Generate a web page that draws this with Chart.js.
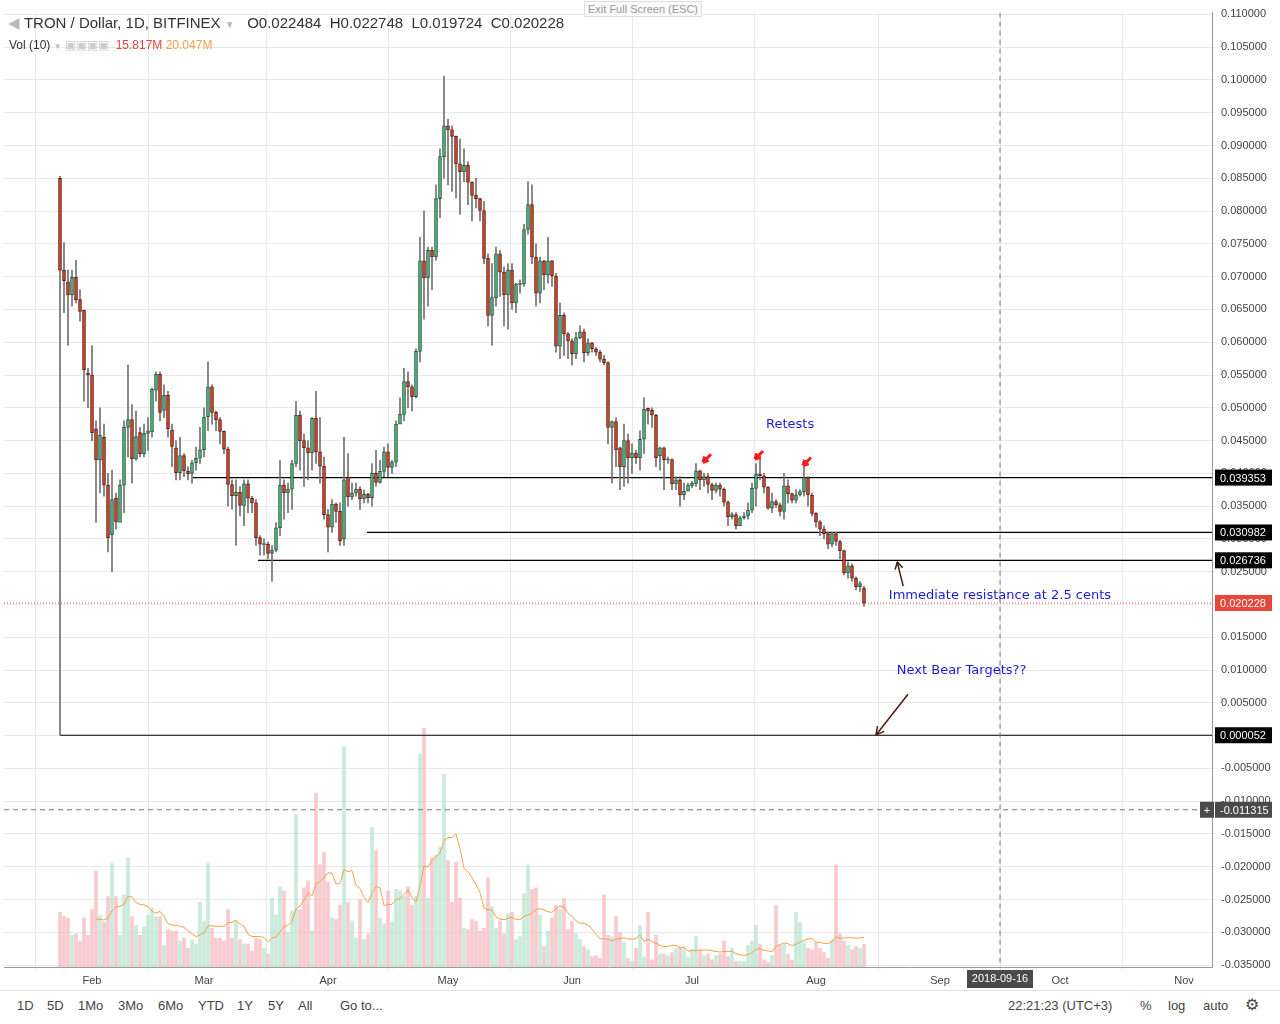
<!DOCTYPE html>
<html>
<head>
<meta charset="utf-8">
<script src="https://cdn.jsdelivr.net/npm/chart.js@4/dist/chart.umd.min.js"></script>
<style>
body { margin: 0; background: #fff; font-family: "Liberation Sans", Arial, sans-serif; }
#wrap { position: relative; width: 1280px; height: 1024px; overflow: hidden; }
#c { position: absolute; left: 0; top: 0; }
.hd { position: absolute; white-space: nowrap; color: #333; }
#bar { position: absolute; left: 0; top: 990px; width: 1280px; height: 34px; border-top: 1px solid #e0e0e0; font-size: 13px; color: #444; }
#bar span { position: absolute; top: 7px; }
</style>
</head>
<body>
<div id="wrap">
<canvas id="c" width="1280" height="990"></canvas>
<div class="hd" style="left:8px;top:14px;font-size:15px;"><span style="color:#bbb">&#9664;</span> TRON / Dollar, 1D, BITFINEX <span style="color:#bbb;font-size:10px">&#9660;</span>&nbsp;&nbsp; O0.022484 &nbsp;H0.022748 &nbsp;L0.019724 &nbsp;C0.020228</div>
<div class="hd" style="left:9px;top:38px;font-size:12px;">Vol (10) <span style="color:#bbb;font-size:8px">&#9660;</span> <span style="color:#ccc">&#9635;&#9635;&#9635;&#9635;</span>&nbsp; <span style="color:#e0463a">15.817M</span> <span style="color:#f5a04a">20.047M</span></div>
<div class="hd" style="left:584px;top:1px;font-size:11px;color:#999;border:1px solid #ddd;padding:1px 3px;background:#fafafa;">Exit Full Screen (ESC)</div>
<div id="bar">
<span style="left:17px">1D</span><span style="left:47px">5D</span><span style="left:78px">1Mo</span><span style="left:118px">3Mo</span><span style="left:158px">6Mo</span><span style="left:198px">YTD</span><span style="left:237px">1Y</span><span style="left:268px">5Y</span><span style="left:298px">All</span>
<span style="left:340px">Go to...</span>
<span style="left:1008px">22:21:23 (UTC+3)</span><span style="left:1140px">%</span><span style="left:1168px">log</span><span style="left:1203px">auto</span><span style="left:1245px;font-size:16px;top:4px">&#9881;</span>
</div>
</div>
<script>
// prices in thousandths of a dollar, one candle per day from 2018-01-24
const firstDay = -8; // days relative to Feb 1
const opens = [85.0,71.0,69.2,67.2,69.9,66.5,64.9,55.3,55.0,46.8,42.0,45.5,38.2,30.6,36.2,32.5,38.2,47.0,48.2,42.2,
46.2,43.0,46.1,46.3,52.7,55.1,49.6,51.9,46.6,43.9,40.1,42.7,40.3,40.0,41.6,42.3,43.6,48.6,53.2,49.3,
48.2,46.4,43.7,38.3,36.6,37.1,35.1,38.4,36.2,35.5,30.2,29.2,29.2,27.8,28.3,31.7,38.2,37.0,37.6,41.5,
48.9,45.0,43.9,43.1,48.4,43.3,41.1,33.7,31.8,35.3,34.2,30.0,39.4,36.4,37.0,37.6,36.1,36.8,36.3,40.0,
38.6,40.3,43.3,40.9,41.7,47.5,49.0,54.0,53.2,51.7,58.6,72.4,69.8,74.0,73.0,81.9,88.3,93.0,92.4,91.4,
87.2,86.0,87.0,84.4,82.4,81.9,80.1,72.8,64.1,66.8,73.5,70.7,67.2,71.0,66.0,68.9,68.9,77.2,81.0,73.0,
67.5,72.4,70.3,72.4,70.1,59.4,64.1,61.3,60.2,58.2,60.7,61.6,58.4,59.9,59.0,58.5,57.4,56.9,47.0,47.9,
43.9,41.0,45.0,42.4,43.1,42.4,45.2,49.8,49.6,48.9,42.7,43.9,42.1,42.1,38.4,39.0,36.7,37.3,38.2,38.4,
40.4,39.0,39.5,38.3,37.4,38.2,37.6,35.6,33.4,33.7,32.0,33.2,33.5,34.4,37.7,39.9,39.6,37.9,34.7,35.7,
35.2,34.2,38.1,36.9,35.9,36.7,37.2,39.3,36.7,33.9,32.6,31.5,30.8,29.2,30.8,29.6,28.2,24.8,25.9,24.0,
22.7,22.5];
const closes = [71.0,69.4,67.2,69.9,66.5,64.7,55.8,55.0,46.2,42.1,45.8,38.2,30.2,36.0,32.6,38.2,47.0,48.2,42.2,45.6,
43.0,46.1,46.5,52.8,55.1,49.3,51.9,46.8,44.1,40.1,42.7,40.4,39.9,41.6,42.3,43.6,48.6,53.2,49.3,48.2,
46.4,43.7,38.3,36.6,37.1,35.1,38.4,36.2,35.5,30.2,29.2,29.2,27.8,28.3,31.7,38.2,37.0,37.6,41.5,48.9,
45.0,43.9,43.1,48.4,43.3,41.1,33.7,31.8,35.3,34.2,29.7,39.0,36.4,37.0,37.6,36.1,36.8,36.3,40.0,38.6,
40.3,43.3,40.9,41.7,47.5,49.0,54.0,53.2,51.7,58.6,72.4,69.8,74.0,73.0,81.9,88.3,93.0,92.4,91.4,87.2,
86.0,87.0,84.4,82.4,81.9,80.1,72.8,64.1,66.8,73.5,70.7,67.2,71.0,66.0,68.9,68.9,77.2,81.0,73.0,67.5,
72.4,70.3,72.4,70.1,59.4,64.1,61.3,60.2,58.2,60.7,61.6,58.4,59.9,59.0,58.5,57.4,56.9,47.0,47.9,43.6,
41.0,45.0,42.4,43.1,42.4,45.2,49.8,49.6,48.9,42.4,43.9,42.1,42.1,38.4,39.0,36.7,37.3,38.2,38.4,40.4,
39.0,39.5,38.3,37.4,38.2,37.6,35.6,33.4,33.7,32.0,33.2,33.5,34.4,37.7,39.9,39.6,37.9,34.7,35.7,35.2,
34.2,38.1,36.9,35.9,36.7,37.2,39.3,36.7,33.9,32.6,31.5,30.8,29.2,30.8,29.6,28.2,24.8,25.9,24.0,22.7,
23.2,20.2];
const highs = [85.3,75.2,71.0,71.0,72.5,68.0,64.9,56.0,59.5,48.0,50.0,47.5,40.0,40.5,37.0,39.0,48.0,56.5,50.5,49.5,
47.0,47.5,48.5,53.0,55.5,55.5,53.5,52.5,47.5,45.0,45.5,43.0,41.0,42.0,44.0,47.0,50.0,57.0,53.5,49.5,
48.5,46.5,44.0,39.0,39.0,38.0,39.0,39.0,36.5,36.0,30.5,30.0,29.5,29.0,32.5,42.0,39.0,38.5,42.0,51.0,
49.5,46.0,45.0,48.5,52.5,48.5,42.5,34.5,36.0,35.5,35.5,45.5,43.0,38.5,38.5,38.0,37.5,37.0,41.5,43.5,
42.0,44.0,44.5,42.0,48.0,51.5,56.0,55.5,53.5,59.0,76.0,80.0,74.5,74.5,84.0,89.5,100.6,94.0,93.0,91.5,
91.0,89.5,87.5,84.5,85.0,82.0,81.5,73.5,72.0,74.5,74.0,71.5,72.0,72.0,69.0,69.5,78.0,84.5,84.0,75.0,
73.0,72.5,76.0,72.5,70.5,66.0,64.5,61.5,60.5,61.5,62.5,62.0,60.5,60.0,59.2,58.8,58.0,57.0,48.0,48.5,
44.0,47.5,46.0,44.5,43.5,46.5,51.5,50.0,50.0,49.0,44.0,44.0,42.5,42.2,39.5,39.5,38.5,38.5,38.8,41.5,
40.5,40.0,40.0,38.5,38.5,38.5,37.8,35.8,34.0,34.0,33.5,34.0,35.5,38.5,41.5,43.0,40.0,38.0,37.0,36.0,
35.5,40.0,39.0,37.0,37.5,37.5,41.0,39.5,37.0,34.0,32.8,32.0,31.0,31.0,31.0,29.8,28.3,26.5,26.2,24.2,
23.5,22.75];
const lows = [0.05,64.5,59.5,65.5,66.0,63.2,51.0,50.0,45.0,32.5,37.0,36.5,28.0,25.0,31.5,33.5,34.0,42.5,38.5,42.0,
42.5,42.5,43.5,45.5,51.0,48.0,48.5,45.5,41.0,39.0,39.0,39.5,39.0,38.5,40.5,41.5,42.5,46.5,47.5,46.5,
44.5,43.0,35.0,34.5,29.0,33.5,32.0,34.0,34.0,29.0,27.5,27.5,27.0,23.5,28.0,30.5,33.0,34.0,34.5,41.0,
40.5,38.0,39.0,40.5,41.5,38.5,33.0,28.0,31.0,32.5,29.0,29.0,35.0,36.0,36.5,34.5,35.5,35.5,35.0,38.0,
38.5,39.5,39.5,40.0,41.0,48.0,48.0,50.0,49.5,51.5,57.0,63.5,65.5,68.0,72.5,79.0,85.0,84.0,83.0,82.0,
79.5,84.5,81.0,78.5,80.5,78.5,72.0,62.5,59.5,65.5,67.0,62.5,62.0,65.0,64.5,67.5,68.5,76.5,72.0,65.5,
66.0,68.0,69.0,68.5,58.5,57.5,58.0,57.5,56.5,57.5,60.5,57.0,58.0,58.5,58.0,57.0,56.5,44.5,38.5,41.0,
37.5,38.0,38.5,40.0,41.5,40.5,43.0,47.5,47.0,41.0,40.5,37.5,41.5,37.5,37.5,35.0,36.0,37.5,37.8,38.0,
37.5,38.0,37.0,36.0,37.0,36.5,35.0,32.0,33.0,31.5,32.0,33.0,33.0,34.0,35.0,39.0,37.0,34.5,34.0,34.8,
33.5,33.0,35.5,35.5,35.5,36.5,36.5,35.0,33.5,31.8,30.5,30.0,28.5,28.8,29.0,27.0,24.5,24.0,23.5,22.2,
22.0,19.7];
// volume in millions
const volumes = [38,35,34,22,23,18,34,22,40,67, 36,31,49,72,49,22,50,76,35,29,
22,28,36,41,35,35,15,26,25,25, 18,20,13,19,16,45,32,72,27,20,
20,18,40,20,32,19,16,16,11,20, 19,13,9,48,36,56,53,24,39,106,
40,55,60,25,121,71,80,59,34,33, 43,153,45,32,20,47,19,23,97,81,
34,30,53,31,54,53,49,56,43,49, 148,166,48,76,78,83,134,74,45,73,
48,27,26,33,32,25,27,62,42,27, 32,23,37,38,19,21,51,71,54,55,
36,14,25,34,43,40,48,26,32,23, 19,14,12,7,8,6,50,22,21,35,
24,17,6,4,13,29,7,38,5,22, 9,9,8,10,13,13,13,7,12,21,
12,8,9,5,8,9,18,7,13,4, 4,4,15,18,29,16,5,3,8,43,
15,16,9,5,38,31,17,13,12,17, 13,10,6,19,71,23,18,15,12,14,
13,16];
const monthDays = [0, 28, 59, 89, 120, 150, 181, 212, 242, 273];
const monthNames = ['Feb', 'Mar', 'Apr', 'May', 'Jun', 'Jul', 'Aug', 'Sep', 'Oct', 'Nov'];
const levels = [[0.039353, 25.25], [0.030982, 68.75], [0.026736, 41.5], [0.000052, -8]];
const lastPrice = 0.020228;
const crossPrice = -0.011315;
const crossDay = 227;

const UP = '#53b987', UPB = '#225437', DN = '#d94a2e', DNB = '#5e1a0e';
let wickData = [], bodyData = [], bodyFill = [], bodyBorder = [], volData = [], volColor = [];
for (let i = 0; i < closes.length; i++) {
    let d = firstDay + i;
    let o = opens[i] / 1000, c = closes[i] / 1000;
    let up = c >= o;
    wickData.push({x: d, y: [lows[i] / 1000, highs[i] / 1000]});
    let lo = Math.min(o, c), hi = Math.max(o, c);
    if (hi - lo < 0.0002) { lo -= 0.0001; hi += 0.0001; }
    bodyData.push({x: d, y: [lo, hi]});
    bodyFill.push(up ? UP : DN);
    bodyBorder.push(up ? UPB : DNB);
    volData.push({x: d, y: volumes[i]});
    volColor.push(up ? 'rgba(172,224,198,0.65)' : 'rgba(247,180,186,0.7)');
}
let maData = [];
for (let i = 9; i < volumes.length; i++) {
    let s = 0;
    for (let j = i - 9; j <= i; j++) s += volumes[j];
    maData.push({x: firstDay + i, y: s / 10});
}
const xMin = -22, xMax = 280;

let datasets = [
    {type: 'bar', data: volData, yAxisID: 'v', backgroundColor: volColor, barThickness: 3, order: 6, grouped: false},
    {type: 'line', data: maData, yAxisID: 'v', borderColor: '#f7a04b', borderWidth: 1, pointRadius: 0, tension: 0, order: 5}
];
for (let k = 0; k < levels.length; k++) {
    datasets.push({type: 'line', data: [{x: levels[k][1], y: levels[k][0]}, {x: xMax, y: levels[k][0]}],
        borderColor: '#000', borderWidth: 1.2, pointRadius: 0, order: 4});
}
datasets.push({type: 'line', data: [{x: xMin, y: lastPrice}, {x: xMax, y: lastPrice}],
    borderColor: '#e8473a', borderWidth: 1, borderDash: [1, 2], pointRadius: 0, order: 4});
datasets.push({type: 'line', data: [{x: xMin, y: crossPrice}, {x: xMax, y: crossPrice}],
    borderColor: '#777', borderWidth: 1, borderDash: [5, 4], pointRadius: 0, order: 4});
datasets.push({type: 'bar', data: wickData, backgroundColor: '#727272', barThickness: 1, order: 3, grouped: false});
datasets.push({type: 'bar', data: bodyData, backgroundColor: bodyFill, borderColor: bodyBorder, borderWidth: 1,
    borderSkipped: false, barThickness: 3, order: 2, grouped: false});

function label(ctx, text, y, bg, fg) {
    ctx.font = '11px "Liberation Sans"';
    ctx.fillStyle = bg;
    ctx.fillRect(1215, y - 8, 57, 16);
    ctx.fillStyle = fg;
    ctx.textAlign = 'left';
    ctx.textBaseline = 'middle';
    ctx.fillText(text, 1220, y + 1);
}

function arrow(ctx, x1, y1, x2, y2, color, w, head) {
    ctx.strokeStyle = color; ctx.fillStyle = color; ctx.lineWidth = w;
    ctx.beginPath(); ctx.moveTo(x1, y1); ctx.lineTo(x2, y2); ctx.stroke();
    let a = Math.atan2(y2 - y1, x2 - x1);
    ctx.beginPath();
    ctx.moveTo(x2, y2);
    ctx.lineTo(x2 - head * Math.cos(a - 0.5), y2 - head * Math.sin(a - 0.5));
    ctx.moveTo(x2, y2);
    ctx.lineTo(x2 - head * Math.cos(a + 0.5), y2 - head * Math.sin(a + 0.5));
    ctx.stroke();
}

const notes = {
    id: 'notes',
    afterDatasetsDraw(chart) {
        const ctx = chart.ctx, xs = chart.scales.x, ys = chart.scales.y, area = chart.chartArea;
        ctx.save();
        // dashed crosshair vertical
        let cx = xs.getPixelForValue(crossDay);
        ctx.strokeStyle = '#777'; ctx.lineWidth = 1; ctx.setLineDash([5, 4]);
        ctx.beginPath(); ctx.moveTo(cx, area.top); ctx.lineTo(cx, area.bottom); ctx.stroke();
        ctx.setLineDash([]);
        // texts
        ctx.fillStyle = '#1a1ad8';
        ctx.font = '13px "DejaVu Sans"';
        ctx.textBaseline = 'middle'; ctx.textAlign = 'left';
        ctx.fillText('Retests', xs.getPixelForValue(168.5), ys.getPixelForValue(0.0475));
        ctx.fillText('Immediate resistance at 2.5 cents', xs.getPixelForValue(199.2), ys.getPixelForValue(0.0213));
        ctx.fillText('Next Bear Targets??', xs.getPixelForValue(201.2), ys.getPixelForValue(0.0099));
        // arrows
        arrow(ctx, xs.getPixelForValue(202.8), ys.getPixelForValue(0.0228), xs.getPixelForValue(201.3), ys.getPixelForValue(0.0265), '#4a1b10', 1.5, 8);
        arrow(ctx, xs.getPixelForValue(204), ys.getPixelForValue(0.0063), xs.getPixelForValue(196), ys.getPixelForValue(0.0001), '#4a1b10', 1.5, 9);
        [[153.5, 0.0423], [166.5, 0.0428], [178.5, 0.0418]].forEach(p => {
            let px = xs.getPixelForValue(p[0]), py = ys.getPixelForValue(p[1]);
            arrow(ctx, px + 5, py - 4, px - 3, py + 4, '#ff1a1a', 3, 6);
        });
        // price labels
        label(ctx, '0.039353', ys.getPixelForValue(0.039353), '#000', '#fff');
        label(ctx, '0.030982', ys.getPixelForValue(0.030982), '#000', '#fff');
        label(ctx, '0.026736', ys.getPixelForValue(0.026736), '#000', '#fff');
        label(ctx, '0.020228', ys.getPixelForValue(lastPrice), '#e5473b', '#fff');
        label(ctx, '0.000052', ys.getPixelForValue(0.000052), '#000', '#fff');
        label(ctx, '-0.011315', ys.getPixelForValue(crossPrice), '#4a4a4a', '#fff');
        let cy = ys.getPixelForValue(crossPrice);
        ctx.fillStyle = '#4a4a4a'; ctx.fillRect(1200, cy - 8, 14, 16);
        ctx.fillStyle = '#fff'; ctx.textAlign = 'center'; ctx.fillText('+', 1207, cy + 1);
        // date label
        ctx.fillStyle = '#4a4a4a'; ctx.fillRect(cx - 33, area.bottom + 3, 66, 18);
        ctx.fillStyle = '#fff'; ctx.font = '11px "Liberation Sans"';
        ctx.fillText('2018-09-16', cx, area.bottom + 12);
        ctx.restore();
    }
};

new Chart(document.getElementById('c'), {
    data: {datasets: datasets},
    options: {
        responsive: false,
        animation: false,
        layout: {padding: {left: 4, top: 5}},
        plugins: {legend: {display: false}, tooltip: {enabled: false}},
        scales: {
            x: {
                type: 'linear', min: xMin, max: xMax, offset: false,
                afterBuildTicks: s => { s.ticks = monthDays.map(v => ({value: v})); },
                afterFit: s => { s.height = 23; },
                ticks: {callback: (v) => monthNames[monthDays.indexOf(v)], color: '#444', font: {family: 'Liberation Sans', size: 11}, maxRotation: 0, autoSkip: false, padding: 4},
                grid: {color: '#e8e8e8', drawTicks: true, tickLength: 3},
                border: {color: '#999'}
            },
            y: {
                position: 'right', min: -0.0353, max: 0.11028,
                afterBuildTicks: s => { let t = []; for (let k = -7; k <= 22; k++) t.push({value: k * 0.005}); s.ticks = t; },
                afterFit: s => { s.width = 68; },
                ticks: {callback: v => v.toFixed(6), color: '#444', font: {family: 'Liberation Sans', size: 11}, padding: 6},
                grid: {color: '#e8e8e8', tickLength: 3},
                border: {color: '#999'}
            },
            v: {display: false, min: 0, max: 664}
        }
    },
    plugins: [notes]
});
</script>
</body>
</html>
